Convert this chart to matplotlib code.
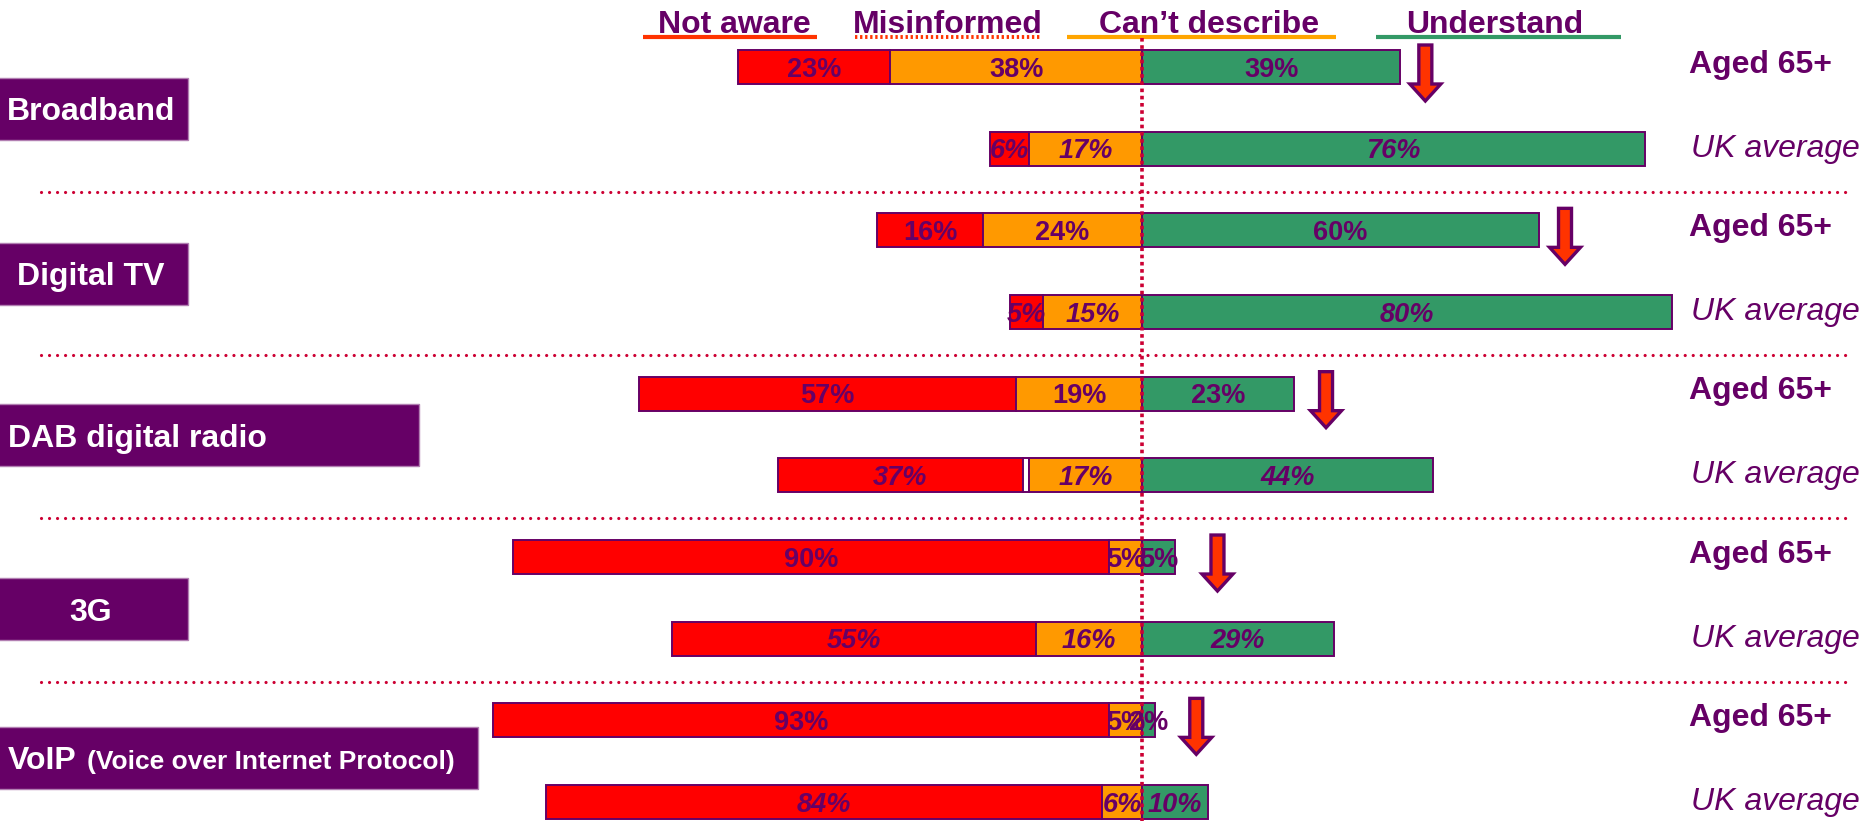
import matplotlib
matplotlib.use("Agg")
import matplotlib.pyplot as plt
from matplotlib.patches import Rectangle, FancyArrow

plt.rcParams['font.family'] = ['Liberation Sans', 'DejaVu Sans']

# ---- data -------------------------------------------------------------
services = ["Broadband", "Digital TV", "DAB digital radio", "3G", "VoIP"]
service_notes = ["", "", "", "", "(Voice over Internet Protocol)"]
segments = ["Not aware", "Misinformed", "Can\u2019t describe", "Understand"]
row_labels = ["Aged 65+", "UK average"]

not_aware_65 = [23, 16, 57, 90, 93]
misinformed_65 = [0, 0, 0, 0, 0]
cant_describe_65 = [38, 24, 19, 5, 5]
understand_65 = [39, 60, 23, 5, 2]

not_aware_uk = [6, 5, 37, 55, 84]
misinformed_uk = [0, 0, 1, 0, 0]
cant_describe_uk = [17, 15, 17, 16, 6]
understand_uk = [76, 80, 44, 29, 10]

# ---- style --------------------------------------------------------------
PURPLE = "#660066"
RED = "#FF0000"
ORANGE = "#FF9900"
GREEN = "#339966"
ARROW_RED = "#FF3300"
DOT_RED = "#CC0033"
seg_colors = [RED, "#FFFFFF", ORANGE, GREEN]
legend_colors = ["#FF3300", "#FF3300", "#FFA500", GREEN]

# page geometry (pixels) used to lay things out in data units
W, H = 1875, 821
X0_PX, PX_PER_PCT = 1142, 6.62
ROW0_PX, ROW_PX = 67, 81.67


def xd(px):
    return (px - X0_PX) / PX_PER_PCT


def yd(px):
    return (px - ROW0_PX) / ROW_PX


def ylen(px):
    return px / ROW_PX


def xlen(px):
    return px / PX_PER_PCT


fig = plt.figure(figsize=(W / 100, H / 100), dpi=100)
ax = fig.add_axes([0, 0, 1, 1])
ax.set_xlim(xd(0), xd(W))
ax.set_ylim(yd(H), yd(0))
ax.axis("off")

BAR_H = ylen(34)
LABEL_FS = 19.5
cap_half_lbl = ylen(LABEL_FS * 100 / 72 * 0.716 / 2)

rows = []
for g in range(len(services)):
    rows.append((2 * g, False, [not_aware_65[g], misinformed_65[g],
                                cant_describe_65[g], understand_65[g]]))
    rows.append((2 * g + 1, True, [not_aware_uk[g], misinformed_uk[g],
                                   cant_describe_uk[g], understand_uk[g]]))

for y, is_uk, vals in rows:
    na, mi, cd, un = vals
    lefts = [-(na + mi + cd), -(mi + cd), -cd, 0]
    for k, (v, left) in enumerate(zip(vals, lefts)):
        if v <= 0:
            continue
        ax.barh(y, v, left=left, height=BAR_H, color=seg_colors[k],
                edgecolor=PURPLE, linewidth=1.4, zorder=2)
        if k == 1:
            continue
        ax.text(left + v / 2, y + cap_half_lbl, f"{v}%", ha="center",
                va="baseline", fontsize=LABEL_FS, fontweight="bold",
                style="italic" if is_uk else "normal", color=PURPLE, zorder=5)

# row captions on the right
for y, is_uk, _ in rows:
    if is_uk:
        ax.text(xd(1691), y + ylen(8), row_labels[1], ha="left", va="baseline",
                fontsize=23, style="italic", color=PURPLE)
    else:
        ax.text(xd(1689), y + ylen(5.5), row_labels[0], ha="left", va="baseline",
                fontsize=23, fontweight="bold", color=PURPLE)

# downward arrows beside the 65+ bars
arrow_gap = [3.8, 3.9, 4.8, 6.4, 6.2]
for g in range(len(services)):
    ax_x = understand_65[g] + arrow_gap[g]
    top = 2 * g - ylen(22)
    ax.add_patch(FancyArrow(ax_x, top, 0, ylen(56), width=xlen(13),
                            head_width=xlen(31), head_length=ylen(17),
                            length_includes_head=True, facecolor=ARROW_RED,
                            edgecolor=PURPLE, linewidth=2.4, zorder=3))

# centre divider
ax.plot([0, 0], [yd(38), yd(H)], color=DOT_RED, linewidth=2.6,
        linestyle=(0, (1.0, 1.0)), zorder=4)

# dotted separators between services
for g in range(len(services) - 1):
    y = 2 * g + 1 + ylen(43)
    ax.plot([xd(41), xd(1848)], [y, y], color=DOT_RED, linewidth=2.3,
            linestyle=(0, (0.01, 2.5)), dash_capstyle="round", zorder=1)

# service boxes on the left
box_w_px = [188, 188, 419, 188, 478]
box_center = [0.51, 2.53, 4.51, 6.64, 8.46]
centered = [True, True, False, True, False]
cap_half_big = ylen(23 * 100 / 72 * 0.716 / 2)
for g, name in enumerate(services):
    yc = box_center[g]
    ax.add_patch(Rectangle((xd(-2), yc - ylen(31)), xlen(box_w_px[g] + 2),
                           ylen(62), facecolor=PURPLE, edgecolor="#B27FB2",
                           linewidth=1.0, zorder=2))
    if centered[g]:
        ax.text(xd(91), yc + cap_half_big, name, ha="center", va="baseline",
                fontsize=23, fontweight="bold", color="white", zorder=3)
    else:
        ax.text(xd(8), yc + cap_half_big, name, ha="left", va="baseline",
                fontsize=23, fontweight="bold", color="white", zorder=3)
    if service_notes[g]:
        ax.text(xd(87), yc + cap_half_big, service_notes[g], ha="left",
                va="baseline", fontsize=19, fontweight="bold", color="white",
                zorder=3)

# legend header with coloured underlines
head_x = [734, 948, 1209, 1495]
line_x = [(643, 817), (855, 1040), (1067, 1336), (1376, 1621)]
for k, name in enumerate(segments):
    ax.text(xd(head_x[k]), yd(33), name, ha="center", va="baseline",
            fontsize=23, fontweight="bold", color=PURPLE)
    x1, x2 = line_x[k]
    if k == 1:
        ax.plot([xd(x1), xd(x2)], [yd(37.5)] * 2, color=legend_colors[k],
                linewidth=2.8, linestyle=(0, (0.6, 0.7)))
    else:
        ax.plot([xd(x1), xd(x2)], [yd(37.5)] * 2, color=legend_colors[k],
                linewidth=3.0, solid_capstyle="butt")

fig.savefig("out.png", dpi=100, facecolor="white")
